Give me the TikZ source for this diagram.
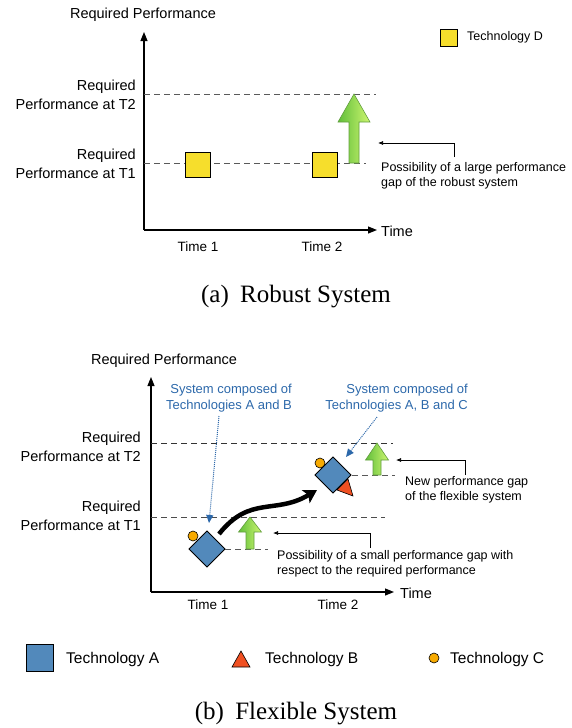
\documentclass[tikz,border=0pt]{standalone}
\usepackage{fontspec}
\setmainfont{Liberation Sans}
\newfontfamily\capfont{Liberation Serif}
\usetikzlibrary{arrows.meta}

\definecolor{techyellow}{RGB}{246,222,44}
\definecolor{techblue}{RGB}{82,137,187}
\definecolor{techorange}{RGB}{247,170,0}
\definecolor{techred}{RGB}{240,80,34}
\definecolor{gapdark}{RGB}{96,190,58}
\definecolor{gaplight}{RGB}{206,246,112}
\definecolor{gapedge}{RGB}{98,158,62}
\definecolor{sysblue}{RGB}{44,104,170}

\newcommand{\axisfont}{\fontsize{14.5}{19}\selectfont}
\newcommand{\timefont}{\fontsize{13.5}{16}\selectfont}
\newcommand{\notefont}{\fontsize{12.5}{15}\selectfont}
\newcommand{\legfont}{\fontsize{15.5}{18}\selectfont}
\newcommand{\capsize}{\fontsize{25}{30}\selectfont}

% green gap arrow: x, tip y, head bottom y, base y, head half width, shaft half width
\newcommand{\gapup}[6]{%
  \shade[left color=gapdark, right color=gaplight, draw=gapedge, line width=0.6pt]
    (#1,#2) -- ({#1+#5},#3) -- ({#1+#6},#3) -- ({#1+#6},#4)
    -- ({#1-#6},#4) -- ({#1-#6},#3) -- ({#1-#5},#3) -- cycle;}

\begin{document}
\begin{tikzpicture}[x=1pt, y=-1pt,
  axis/.style={line width=1.1pt, -{Triangle[length=9pt, width=7pt]}},
  reqline/.style={dashed, dash pattern=on 6pt off 4pt, line width=1pt},
  gapline/.style={reqline, black!65},
  note/.style={line width=0.7pt, -{Latex[length=5pt, width=4pt]}},
  sysnote/.style={sysblue, line width=1pt, densely dotted, -{Triangle[length=8pt, width=7pt]}},
  flow/.style={line width=4.5pt, -{Stealth[length=13pt, width=15pt, inset=3pt]}},
  techD/.style={draw, fill=techyellow, line width=0.8pt, minimum size=25pt, inner sep=0pt},
  techA/.style={draw, fill=techblue, line width=0.8pt, minimum size=25.5pt, inner sep=0pt, rotate=45},
  techC/.style={circle, draw, fill=techorange, line width=0.6pt, minimum size=10pt, inner sep=0pt},
  techB/.style={draw, fill=techred, line width=0.6pt},
  reqlabel/.style={font=\axisfont, align=right, anchor=east, inner sep=0pt},
  notelabel/.style={font=\notefont, align=left, anchor=north west, inner sep=0pt}
]
\useasboundingbox (0,0) rectangle (572,728);

% (a) Robust system
\coordinate (O1) at (144,230);
\coordinate (Y1) at (144,32);
\coordinate (X1) at (377,230);
\draw[axis] (O1) -- (Y1);
\draw[axis] (O1) -- (X1);
\node[font=\axisfont] (perfA) at (143,15) {Required Performance};
\node[font=\axisfont, anchor=west, inner sep=0pt] (timeA) at (381,231) {Time};
\node[font=\timefont] (t1A) at (198,247) {Time 1};
\node[font=\timefont] (t2A) at (322,247) {Time 2};

\node[reqlabel] (reqT2A) at (136,95) {Required\\Performance at T2};
\node[reqlabel] (reqT1A) at (136,164) {Required\\Performance at T1};
\draw[gapline] (144,94) -- (376,94);
\draw[gapline] (144,163) -- (366,163);

\node[techD] (D1) at (197.5,164.5) {};
\node[techD] (D2) at (324.5,164.5) {};
\gapup{354}{94}{122}{163}{16}{5}

\coordinate (gapA) at (378,143);
\coordinate (noteA) at (454,157);
\draw[note] (noteA) |- (gapA);
\node[notelabel] (textA) at (381,162) {Possibility of a large performance\\gap of the robust system};

\node[techD, minimum size=17pt] (legD) at (448.5,38) {};
\node[font=\notefont, anchor=west, inner sep=0pt] (legDtext) at (467,37) {Technology D};

\node[font=\capsize\capfont] (capA) at (296,297) {(a)\hspace{0.45em}Robust System};

% (b) Flexible system
\coordinate (O2) at (151,592);
\coordinate (Y2) at (151,377);
\coordinate (X2) at (394,592);
\draw[axis] (O2) -- (Y2);
\draw[axis] (O2) -- (X2);
\node[font=\axisfont] (perfB) at (164,361) {Required Performance};
\node[font=\axisfont, anchor=west, inner sep=0pt] (timeB) at (400,593) {Time};
\node[font=\timefont] (t1B) at (208,605) {Time 1};
\node[font=\timefont] (t2B) at (338,605) {Time 2};

\node[reqlabel] (reqT2B) at (141,447) {Required\\Performance at T2};
\node[reqlabel] (reqT1B) at (141,516) {Required\\Performance at T1};
\draw[reqline, black!80] (151,443) -- (393,443);
\draw[reqline, black!70] (151,517) -- (385,517);

\node[font=\fontsize{13}{16}\selectfont, text=sysblue, align=right, anchor=east, inner sep=0pt] (sysAB) at (292,398) {System composed of\\Technologies A and B};
\node[font=\fontsize{13}{16}\selectfont, text=sysblue, align=right, anchor=east, inner sep=0pt] (sysABC) at (468,398) {System composed of\\Technologies A, B and C};

% system at time 1
\node[techC] (C1) at (193,536) {};
\node[techA] (A1) at (207,549) {};
% system at time 2
\node[techC] (C2) at (320,463) {};
\draw[techB] (337,490) -- (348,479) -- (353,496) -- cycle;
\node[techA] (A2) at (333,475) {};

\coordinate (sysABtip) at (209,523);
\coordinate (sysABCtip) at (346,457);
\draw[sysnote] (219,416) -- (sysABtip);
\draw[sysnote] (377,417) -- (sysABCtip);

\coordinate (flowstart) at (219,534);
\coordinate (flowend) at (317,490);
\draw[flow] (flowstart) .. controls (250,495) and (275,515) .. (flowend);

\draw[gapline] (225,549) -- (268,549);
\draw[gapline] (352,475) -- (395,475);
\gapup{250}{517}{532}{549}{11.5}{4}
\gapup{377}{443}{460}{475}{11.5}{4}

\coordinate (gapB1) at (273,533);
\coordinate (noteB1) at (370,548);
\draw[note] (noteB1) |- (gapB1);
\node[notelabel] (textB1) at (277,550) {Possibility of a small performance gap with\\respect to the required performance};

\coordinate (gapB2) at (396,460);
\coordinate (noteB2) at (465,475);
\draw[note] (noteB2) |- (gapB2);
\node[notelabel] (textB2) at (405,476) {New performance gap\\of the flexible system};

% legend
\node[draw, fill=techblue, line width=0.8pt, minimum size=27pt, inner sep=0pt] (legA) at (40,658) {};
\node[font=\legfont, anchor=west, inner sep=0pt] (legAtext) at (66,659) {Technology A};
\draw[techB] (232,667) -- (250,667) -- (241,651) -- cycle;
\node[font=\legfont, anchor=west, inner sep=0pt] (legBtext) at (265,659) {Technology B};
\node[techC] (legC) at (434,658) {};
\node[font=\legfont, anchor=west, inner sep=0pt] (legCtext) at (450,659) {Technology C};

\node[font=\capsize\capfont] (capB) at (296,714) {(b)\hspace{0.45em}Flexible System};
\end{tikzpicture}
\end{document}
